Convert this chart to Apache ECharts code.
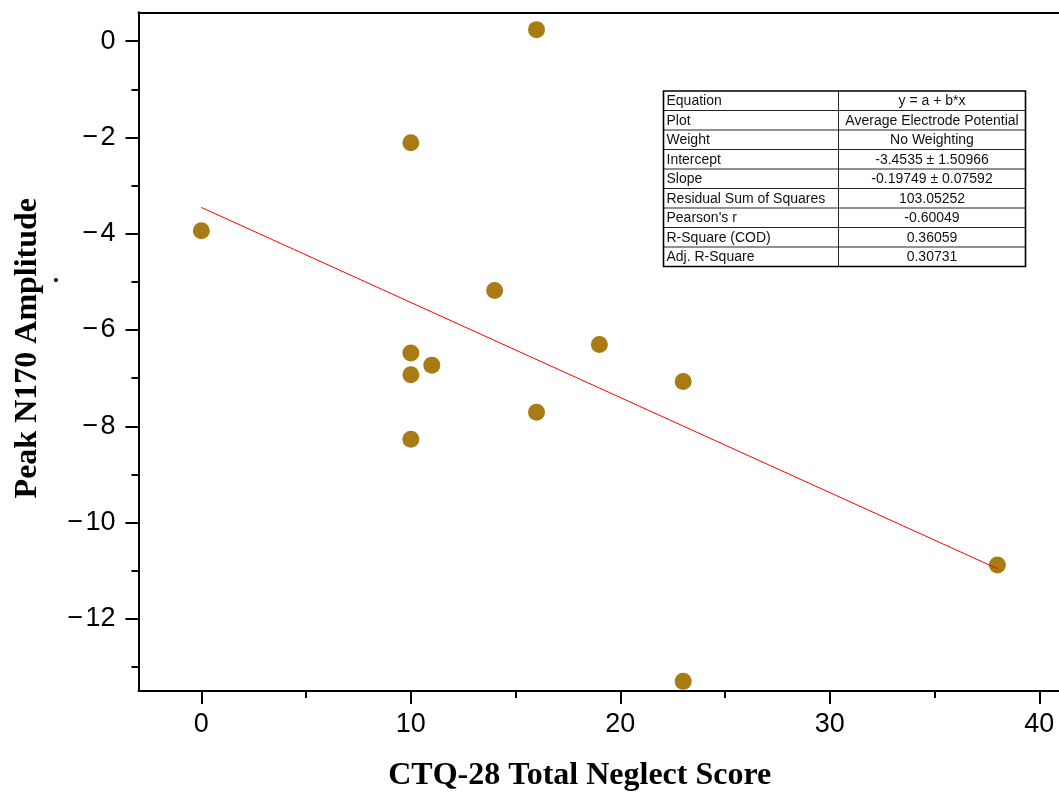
<!DOCTYPE html>
<html>
<head>
<meta charset="utf-8">
<script src="https://cdn.jsdelivr.net/npm/echarts@6/dist/echarts.min.js"></script>
<style>
  html, body { margin: 0; padding: 0; background: #fff; }
  #chart { width: 1059px; height: 797px; }
</style>
</head>
<body>
<div id="chart"></div>
<script>
// CTQ-28 neglect score vs. peak N170 amplitude (average electrode potential)
const neglectScore = [0, 10, 16, 14, 10, 10, 11, 19, 23, 16, 10, 38, 23];
const n170Amplitude = [-3.94, -2.11, 0.24, -5.18, -6.48, -6.93, -6.73, -6.30, -7.07, -7.71, -8.27, -10.88, -13.30];

// Linear fit y = a + b*x
const fitIntercept = -3.4535;
const fitSlope = -0.19749;
const fitRange = [0, 38];

// Axis ticks
const xMajorTicks = [0, 10, 20, 30, 40];
const xMinorTicks = [5, 15, 25, 35];
const yMajorTicks = [0, -2, -4, -6, -8, -10, -12];
const yMinorTicks = [-1, -3, -5, -7, -9, -11, -13];

// Fit summary table
const tableLabels = ['Equation', 'Plot', 'Weight', 'Intercept', 'Slope',
  'Residual Sum of Squares', "Pearson's r", 'R-Square (COD)', 'Adj. R-Square'];
const tableValues = ['y = a + b*x', 'Average Electrode Potential', 'No Weighting',
  '-3.4535 \u00b1 1.50966', '-0.19749 \u00b1 0.07592', '103.05252', '-0.60049', '0.36059', '0.30731'];

const points = neglectScore.map((x, i) => [x, n170Amplitude[i]]);
const fitLine = fitRange.map(x => [x, fitIntercept + fitSlope * x]);

const sans = 'Liberation Sans, Arial, sans-serif';
const serif = 'Liberation Serif, Times New Roman, serif';
const minusFmt = v => (v < 0 ? '\u2212\u200a' + Math.abs(v) : String(v));

// Table layout
const tX = 663.5, tY = 91, c1 = 175, c2 = 187, rowH = 19.5;
const tW = c1 + c2, tH = rowH * tableLabels.length;
const tableEls = [];
for (let i = 1; i < tableLabels.length; i++) {
  tableEls.push({ type: 'line', shape: { x1: tX, y1: tY + i * rowH, x2: tX + tW, y2: tY + i * rowH },
    style: { stroke: '#222', lineWidth: 1 } });
}
tableEls.push({ type: 'line', shape: { x1: tX + c1, y1: tY, x2: tX + c1, y2: tY + tH },
  style: { stroke: '#222', lineWidth: 1 } });
tableEls.push({ type: 'rect', shape: { x: tX, y: tY, width: tW, height: tH },
  style: { fill: null, stroke: '#000', lineWidth: 1.6 } });
tableLabels.forEach((t, i) => {
  tableEls.push({ type: 'text', x: tX + 3, y: tY + i * rowH + rowH / 2 + 0.5,
    style: { text: t, font: '14px ' + sans, fill: '#111', verticalAlign: 'middle', align: 'left' } });
  tableEls.push({ type: 'text', x: tX + c1 + c2 / 2, y: tY + i * rowH + rowH / 2 + 0.5,
    style: { text: tableValues[i], font: '14px ' + sans, fill: '#111', verticalAlign: 'middle', align: 'center' } });
});

const xMin = -3, xMax = 40.94;

const chart = echarts.init(document.getElementById('chart'), null, { renderer: 'canvas' });
chart.setOption({
  animation: false,
  backgroundColor: '#fff',
  grid: { left: 138.5, top: 12.3, right: 0, bottom: 103.7 },
  xAxis: [
    {
      type: 'value', min: xMin, max: xMax, position: 'bottom',
      axisLine: { show: true, onZero: false, lineStyle: { color: '#000', width: 2 } },
      axisTick: { show: true, length: 13, customValues: xMajorTicks, lineStyle: { color: '#000', width: 2 } },
      axisLabel: { customValues: xMajorTicks, fontSize: 27, margin: 20, color: '#000', fontFamily: sans },
      splitLine: { show: false },
      name: 'CTQ-28 Total Neglect Score', nameLocation: 'middle', nameGap: 69,
      nameTextStyle: { fontFamily: serif, fontWeight: 'bold', fontSize: 32, color: '#000', padding: [0, 38, 0, 0] }
    },
    {
      type: 'value', min: xMin, max: xMax, position: 'bottom',
      axisLine: { show: false, onZero: false },
      axisTick: { show: true, length: 7, customValues: xMinorTicks, lineStyle: { color: '#000', width: 2 } },
      axisLabel: { show: false }, splitLine: { show: false }
    },
    {
      // top frame line
      type: 'value', min: xMin, max: xMax, position: 'top',
      axisLine: { show: true, onZero: false, lineStyle: { color: '#000', width: 2 } },
      axisTick: { show: false }, axisLabel: { show: false }, splitLine: { show: false }
    }
  ],
  yAxis: [
    {
      type: 'value', min: -13.5, max: 0.6, position: 'left',
      axisLine: { show: true, onZero: false, lineStyle: { color: '#000', width: 2 } },
      axisTick: { show: true, length: 13, customValues: yMajorTicks, lineStyle: { color: '#000', width: 2 } },
      axisLabel: { customValues: yMajorTicks, fontSize: 27, margin: 23, color: '#000', fontFamily: sans, formatter: minusFmt },
      splitLine: { show: false },
      name: 'Peak N170 Amplitude', nameLocation: 'middle', nameGap: 95, nameRotate: 90,
      nameTextStyle: { fontFamily: serif, fontWeight: 'bold', fontSize: 32, color: '#000', padding: [0, 0, 0, 7] }
    },
    {
      type: 'value', min: -13.5, max: 0.6, position: 'left',
      axisLine: { show: false, onZero: false },
      axisTick: { show: true, length: 7, customValues: yMinorTicks, lineStyle: { color: '#000', width: 2 } },
      axisLabel: { show: false }, splitLine: { show: false }
    }
  ],
  series: [
    {
      type: 'scatter', data: points, symbol: 'circle', symbolSize: 17,
      itemStyle: { color: '#A87B15', opacity: 1 }, z: 2
    },
    {
      type: 'line', data: fitLine, showSymbol: false, symbol: 'none',
      lineStyle: { color: '#FF0000', width: 1 }, z: 3
    }
  ],
  graphic: [
    { type: 'group', children: tableEls },
    { type: 'text', x: 51, y: 280, rotation: Math.PI / 2,
      style: { text: '.', font: 'bold 26px ' + serif, fill: '#000', align: 'center', verticalAlign: 'middle' } }
  ]
});
</script>
</body>
</html>
